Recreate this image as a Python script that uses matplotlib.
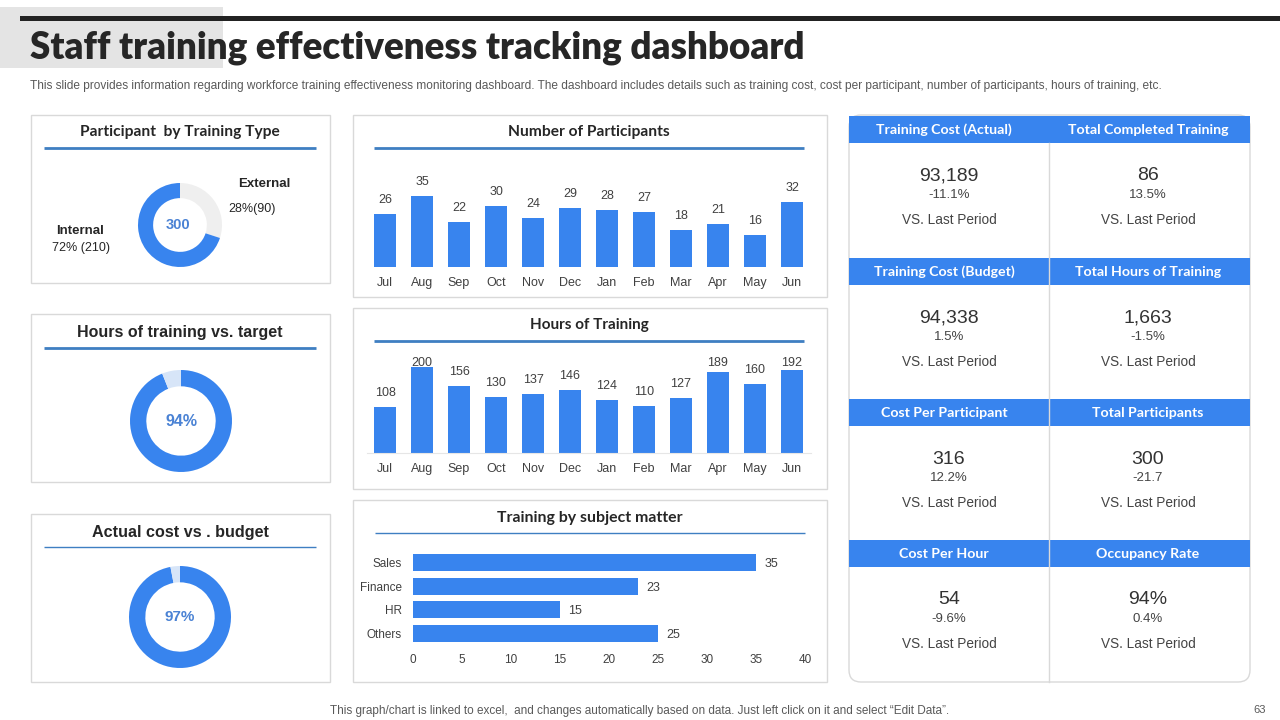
import matplotlib
matplotlib.use('Agg')
import matplotlib.pyplot as plt
from matplotlib.patches import Rectangle, FancyBboxPatch

# ---------------- data ----------------
months = ['Jul', 'Aug', 'Sep', 'Oct', 'Nov', 'Dec', 'Jan', 'Feb', 'Mar', 'Apr', 'May', 'Jun']
participants = [26, 35, 22, 30, 24, 29, 28, 27, 18, 21, 16, 32]
hours = [108, 200, 156, 130, 137, 146, 124, 110, 127, 189, 160, 192]
subjects = ['Sales', 'Finance', 'HR', 'Others']
subject_values = [35, 23, 15, 25]
type_labels = ['External', 'Internal']
type_values = [90, 210]
type_pct_labels = ['28%(90)', '72% (210)']
type_total = 300
hours_vs_target = 94
cost_vs_budget = 97
kpi_titles = ['Training Cost (Actual)', 'Total Completed Training',
              'Training Cost (Budget)', 'Total Hours of Training',
              'Cost Per Participant', 'Total Participants',
              'Cost Per Hour', 'Occupancy Rate']
kpi_values = ['93,189', '86', '94,338', '1,663', '316', '300', '54', '94%']
kpi_changes = ['-11.1%', '13.5%', '1.5%', '-1.5%', '12.2%', '-21.7', '-9.6%', '0.4%']

# ---------------- style ----------------
W, H = 1280, 720
BLUE = '#3884ee'
LIGHT = '#d7e5f8'
GRAYRING = '#efefef'
LINE = '#3f7fc2'
BORDER = '#d9d9d9'
DARK = '#262626'
TXT = '#404040'
BOLD_FONT = ['Lato', 'DejaVu Sans']
SANS = ['Liberation Sans', 'DejaVu Sans']
NARROW = ['Liberation Sans Narrow', 'Liberation Sans', 'DejaVu Sans']

fig = plt.figure(figsize=(12.8, 7.2), dpi=100)
fig.patch.set_facecolor('white')
bg = fig.add_axes([0, 0, 1, 1])
bg.set_xlim(0, W)
bg.set_ylim(H, 0)
bg.axis('off')
renderer = fig.canvas.get_renderer()


def px_axes(x0, y0, x1, y1):
    ax = fig.add_axes([x0 / W, 1 - y1 / H, (x1 - x0) / W, (y1 - y0) / H])
    ax.set_facecolor('none')
    return ax


def fit_text(x, y, s, width, **kw):
    t = bg.text(x, y, s, **kw)
    w = t.get_window_extent(renderer).width
    t.set_fontsize(t.get_fontsize() * width / w)
    return t


def panel(x0, y0, x1, y1):
    bg.add_patch(Rectangle((x0, y0), x1 - x0, y1 - y0, fc='white', ec=BORDER, lw=1))


def underline(x0, x1, y, lw=2):
    bg.plot([x0, x1], [y, y], color=LINE, lw=lw, solid_capstyle='butt')


# ---------------- header ----------------
bg.add_patch(Rectangle((0, 7), 223, 61, fc='#e4e4e4', ec='none'))
bg.add_patch(Rectangle((20, 16), 1260, 4.5, fc='#222222', ec='none'))
fit_text(30, 48, 'Staff training effectiveness tracking dashboard', 775,
         fontsize=26, fontweight='heavy', family=BOLD_FONT, color=DARK, va='center', ha='left')
fit_text(30, 86, 'This slide provides information regarding workforce training effectiveness monitoring '
         'dashboard. The dashboard includes details such as training cost, cost per participant, '
         'number of participants, hours of training, etc.', 1143,
         fontsize=8, family=NARROW, color='#595959', va='center', ha='left')
fit_text(640, 711, 'This graph/chart is linked to excel,  and changes automatically based on data. '
         'Just left click on it and select \u201cEdit Data\u201d.', 626,
         fontsize=8, family=NARROW, color='#595959', va='center', ha='center')
bg.text(1260, 710, '63', fontsize=8, family=NARROW, color='#595959', va='center', ha='center')

# ---------------- left panels ----------------
panel(31, 115, 330, 283)
fit_text(180, 132, 'Participant  by Training Type', 199, fontsize=11, fontweight='bold',
         family=BOLD_FONT, color=DARK, ha='center', va='center')
underline(44, 316, 148)

panel(31, 314, 330, 482)
fit_text(180, 333, 'Hours of training vs. target', 204, fontsize=12, fontweight='bold',
         family=SANS, color=DARK, ha='center', va='center')
underline(44, 316, 348)

panel(31, 514, 330, 682)
fit_text(180, 533, 'Actual cost vs . budget', 176, fontsize=12, fontweight='bold',
         family=SANS, color=DARK, ha='center', va='center')
underline(44, 316, 547, lw=1)


def donut(cx, cy, r, values, colors, width):
    ax = px_axes(cx - r, cy - r, cx + r, cy + r)
    ax.pie(values, colors=colors, startangle=90, counterclock=False, radius=1,
           wedgeprops=dict(width=width, edgecolor='none'))
    ax.set_xlim(-1, 1)
    ax.set_ylim(-1, 1)
    ax.set_aspect('equal')
    ax.axis('off')
    return ax


donut(180, 225, 42, type_values, [GRAYRING, BLUE], 0.36)
bg.text(178, 225, str(type_total), fontsize=10.5, fontweight='bold', family=SANS,
        color='#4a82d4', ha='center', va='center')
bg.text(264, 184, type_labels[0], fontsize=9.5, fontweight='bold', family=SANS, color=DARK,
        ha='center', va='center')
bg.text(252, 209, type_pct_labels[0], fontsize=9, family=SANS, color=DARK,
        ha='center', va='center')
bg.text(80, 231, type_labels[1], fontsize=9.5, fontweight='bold', family=SANS, color=DARK,
        ha='center', va='center')
bg.text(81, 248, type_pct_labels[1], fontsize=9, family=SANS, color=DARK,
        ha='center', va='center')

donut(181, 421, 51, [hours_vs_target, 100 - hours_vs_target], [BLUE, LIGHT], 0.32)
bg.text(181, 421, f'{hours_vs_target}%', fontsize=11.5, fontweight='bold', family=SANS,
        color='#4a82d4', ha='center', va='center')

donut(180, 617, 51, [cost_vs_budget, 100 - cost_vs_budget], [BLUE, LIGHT], 0.32)
bg.text(180, 617, f'{cost_vs_budget}%', fontsize=11, fontweight='bold', family=SANS,
        color='#4a82d4', ha='center', va='center')

# ---------------- middle panels ----------------
panel(353, 115, 827, 297)
fit_text(589, 132, 'Number of Participants', 161, fontsize=11, fontweight='bold',
         family=BOLD_FONT, color=DARK, ha='center', va='center')
underline(374, 804, 148)

panel(353, 308, 827, 489)
fit_text(589, 325, 'Hours of Training', 119, fontsize=11, fontweight='bold',
         family=BOLD_FONT, color=DARK, ha='center', va='center')
underline(374, 804, 341)

panel(353, 500, 827, 682)
fit_text(590, 518, 'Training by subject matter', 185, fontsize=11, fontweight='bold',
         family=BOLD_FONT, color=DARK, ha='center', va='center')
underline(375, 805, 533, lw=1)

step = 37.0
x_first = 385.0


def month_bars(values, base_y, ymax, px_per_unit, cap=None, baseline=False):
    n = len(values)
    top = base_y - ymax * px_per_unit
    ax = px_axes(x_first - step / 2, top, x_first + (n - 0.5) * step, base_y)
    ax.bar(range(n), values, width=0.62, color=BLUE)
    ax.set_xlim(-0.5, n - 0.5)
    ax.set_ylim(0, ymax)
    for s in ax.spines.values():
        s.set_visible(False)
    if baseline:
        ax.spines['bottom'].set_visible(True)
        ax.spines['bottom'].set_color('#e6e6e6')
    ax.set_yticks([])
    ax.set_xticks(range(n), months)
    ax.tick_params(axis='x', length=0, pad=7, labelsize=9, labelcolor=TXT)
    for lab in ax.get_xticklabels():
        lab.set_family(SANS)
    off = 14.0 / px_per_unit
    for i, v in enumerate(values):
        y = v + off
        if cap is not None:
            y = min(y, cap)
        ax.text(i, y, str(v), ha='center', va='center', fontsize=9, family=SANS, color=TXT)
    return ax


month_bars(participants, 267, 40, 71.0 / 35.0)
month_bars(hours, 453, 220, 86.0 / 200.0, cap=90.0 / (86.0 / 200.0), baseline=True)

# horizontal bars
axh = px_axes(413, 551, 805, 645)
axh.barh(range(len(subjects)), subject_values, height=0.73, color=BLUE)
axh.set_xlim(0, 40)
axh.set_ylim(len(subjects) - 0.5, -0.5)
for s in axh.spines.values():
    s.set_visible(False)
axh.set_xticks(range(0, 41, 5))
axh.set_yticks(range(len(subjects)), subjects)
axh.tick_params(axis='both', length=0, labelsize=8.5, labelcolor=TXT)
axh.tick_params(axis='x', pad=6.5)
axh.tick_params(axis='y', pad=8)
for lab in axh.get_xticklabels() + axh.get_yticklabels():
    lab.set_family(SANS)
for i, v in enumerate(subject_values):
    axh.annotate(str(v), (v, i), xytext=(6, -1), textcoords='offset points',
                 ha='left', va='center', fontsize=9, family=SANS, color=TXT)

# ---------------- KPI panel ----------------
RX0, RX1, RMID = 849, 1250, 1049
bg.add_patch(FancyBboxPatch((RX0, 115), RX1 - RX0, 682 - 115,
                            boxstyle='round,pad=0,rounding_size=12',
                            fc='white', ec=BORDER, lw=1))
bg.plot([RMID, RMID], [143, 682], color=BORDER, lw=1)
header_tops = [116, 258, 399, 540]
col_centers = [949, 1148]
for r, top in enumerate(header_tops):
    bg.add_patch(Rectangle((RX0, top), RX1 - RX0, 27, fc=BLUE, ec='none'))
    for c in range(2):
        k = r * 2 + c
        cx = col_centers[c]
        bg.text(cx - (5 if c == 0 else 0), top + 14, kpi_titles[k],
                fontsize=10.2, fontweight='bold', family=BOLD_FONT, color='white',
                ha='center', va='center')
        bg.text(cx, top + 60, kpi_values[k], fontsize=14, family=SANS, color='#333333',
                ha='center', va='center')
        bg.text(cx, top + 79, kpi_changes[k], fontsize=9.5, family=SANS, color='#444444',
                ha='center', va='center')
        bg.text(cx, top + 104, 'VS. Last Period', fontsize=9.8, family=SANS, color='#444444',
                ha='center', va='center')

fig.savefig('out.png', dpi=100, facecolor='white')
